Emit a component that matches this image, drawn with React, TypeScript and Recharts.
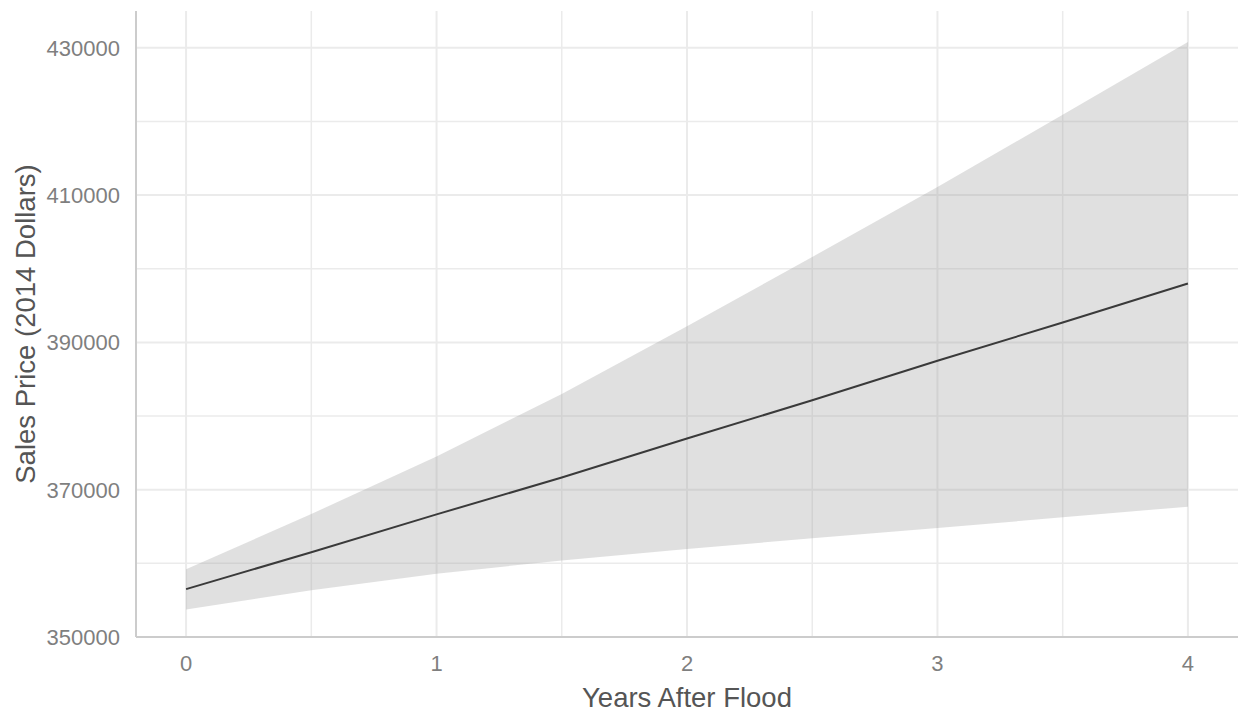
import React from 'react';
import {
  ComposedChart,
  Area,
  Line,
  XAxis,
  YAxis,
  CartesianGrid,
} from 'recharts';

// Predicted sales price after a flood, with its confidence band
const years = [0, 0.5, 1, 1.5, 2, 2.5, 3, 3.5, 4];
const fitted = [356500, 361500, 366650, 371650, 376950, 382150, 387500, 392700, 398000];
const lowerBound = [353750, 356350, 358600, 360400, 361950, 363400, 364800, 366250, 367700];
const upperBound = [359200, 366700, 374500, 383000, 392200, 401600, 411100, 420900, 430800];

const xTicks = [0, 1, 2, 3, 4];
const xMinor = [0.5, 1.5, 2.5, 3.5];
const yTicks = [350000, 370000, 390000, 410000, 430000];
const yMinor = [360000, 380000, 400000, 420000];

const xTitle = 'Years After Flood';
const yTitle = 'Sales Price (2014 Dollars)';

const rows = years.map((year, i) => ({
  year,
  fit: fitted[i],
  band: [lowerBound[i], upperBound[i]],
}));

const FONT = '"Liberation Sans", Arial, Helvetica, sans-serif';
const TICK_COLOR = '#7f7f7f';
const TITLE_COLOR = '#555555';
const GRID = '#ebebeb';

const YTitle = (props: any) => {
  const vb = props.viewBox || {};
  const cx = (vb.x ?? 0) + 25;
  const cy = (vb.y ?? 0) + (vb.height ?? 0) / 2;
  return (
    <text
      x={cx}
      y={cy}
      transform={`rotate(-90, ${cx}, ${cy})`}
      textAnchor="middle"
      dominantBaseline="central"
      fill={TITLE_COLOR}
      fontSize={27.5}
      fontFamily={FONT}
    >
      {yTitle}
    </text>
  );
};

export default function App() {
  return (
    <div style={{ position: 'absolute', left: 0, top: 0, fontFamily: FONT, background: '#fff' }}>
      <ComposedChart
        width={1238}
        height={713}
        data={rows}
        margin={{ top: 11, right: 0, bottom: 0, left: 0 }}
      >
        <CartesianGrid
          stroke={GRID}
          strokeWidth={1.5}
          horizontalValues={yMinor}
          verticalValues={xMinor}
        />
        <CartesianGrid
          stroke={GRID}
          strokeWidth={2}
          horizontalValues={yTicks}
          verticalValues={xTicks}
        />
        <XAxis
          type="number"
          dataKey="year"
          domain={[-0.2, 4.2]}
          ticks={xTicks}
          height={76}
          tickLine={false}
          tickSize={0}
          tickMargin={18}
          axisLine={{ stroke: '#cccccc', strokeWidth: 2 }}
          tick={{ fill: TICK_COLOR, fontSize: 22, fontFamily: FONT }}
          label={{
            value: xTitle,
            position: 'insideBottom',
            offset: 6,
            fill: TITLE_COLOR,
            fontSize: 27.5,
            fontFamily: FONT,
          }}
        />
        <YAxis
          type="number"
          domain={[350000, 435000]}
          ticks={yTicks}
          width={136}
          tickLine={false}
          tickSize={0}
          tickMargin={16}
          axisLine={{ stroke: '#cccccc', strokeWidth: 2 }}
          tick={{ fill: TICK_COLOR, fontSize: 22, fontFamily: FONT }}
          label={{ content: <YTitle /> }}
          allowDataOverflow
        />
        <Area
          type="linear"
          dataKey="band"
          stroke="none"
          fill="#999999"
          fillOpacity={0.3}
          isAnimationActive={false}
          activeDot={false}
        />
        <Line
          type="linear"
          dataKey="fit"
          stroke="#3a3a3a"
          strokeWidth={2}
          dot={false}
          activeDot={false}
          isAnimationActive={false}
        />
      </ComposedChart>
    </div>
  );
}
